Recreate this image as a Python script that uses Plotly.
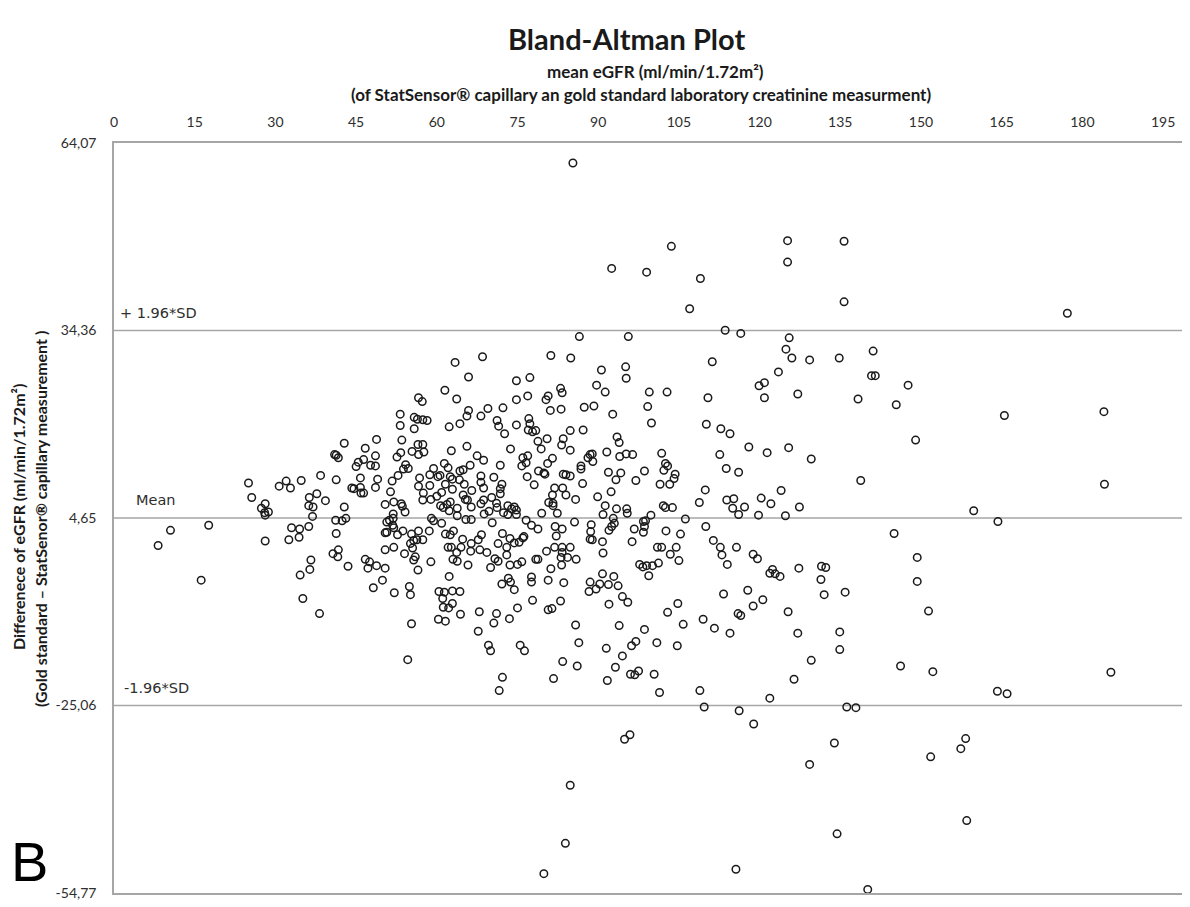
import plotly.graph_objects as go

# ---------------- data ----------------
# mean eGFR (x) and difference (y) pairs, grouped by area of the plot
far_left_mean = [10.5, 17.6, 8.2, 16.2]
far_left_diff = [2.7, 3.5, 0.3, -5.2]

upper_left_mean = [63.4, 65.9, 61.5, 63.7, 56.6, 57.3, 65.9, 65.6, 53.2, 55.8, 56.4, 57.4, 58.2, 53.2, 55.8,
                   62.3, 64.3, 42.8, 48.8, 53.5, 56.5, 57.4, 46.7, 65.6, 41.0, 41.3, 41.7, 45.4, 46.4, 48.6,
                   45.0, 47.7, 48.6, 52.6, 53.3, 55.4, 56.6, 57.6, 54.2, 53.8, 54.7, 62.7, 61.4, 59.4, 60.2,
                   60.6, 62.1, 64.3, 64.9, 66.2, 62.5, 62.9, 64.2, 25.0, 25.6, 30.7, 32.0, 32.8, 34.8, 38.4,
                   41.3, 45.8, 49.0, 51.7, 52.8, 44.2, 44.6, 45.8, 45.9, 46.4, 48.6, 51.4, 56.6, 56.8, 58.7,
                   58.7, 61.6, 65.1, 62.9, 57.5, 57.4, 58.9, 60.0, 60.9, 64.9, 65.7, 66.5, 36.3, 37.7, 39.3,
                   36.2, 37.0, 27.4, 28.1, 28.0, 28.7, 42.8, 50.4, 52.0, 53.4, 53.6, 54.1, 51.9, 60.7, 61.9,
                   62.5, 61.2, 62.3, 63.8, 65.3, 66.4]
upper_left_diff = [29.3, 27.0, 24.9, 23.5, 23.7, 23.1, 21.7, 20.8, 21.1, 20.6, 20.3, 20.2, 20.1, 19.3, 18.8,
                   19.1, 19.6, 16.5, 17.1, 17.0, 16.3, 16.3, 15.7, 16.0, 14.7, 14.6, 14.2, 13.5, 13.9, 14.5,
                   12.8, 13.0, 12.9, 14.3, 15.0, 15.2, 14.7, 15.1, 13.1, 12.4, 12.5, 15.3, 13.3, 12.5, 11.2,
                   11.4, 12.6, 12.1, 12.3, 13.0, 11.2, 10.8, 10.7, 10.2, 7.9, 9.7, 10.5, 9.4, 10.6, 11.4,
                   10.7, 11.0, 10.8, 10.5, 11.4, 9.4, 9.3, 9.5, 8.6, 8.6, 9.5, 8.8, 9.7, 11.0, 9.8,
                   11.5, 10.0, 10.0, 9.2, 8.6, 7.5, 7.6, 8.1, 8.7, 8.3, 7.5, 9.0, 7.9, 8.5, 7.4,
                   6.6, 6.4, 6.2, 6.9, 5.5, 5.6, 6.4, 6.8, 7.2, 6.9, 6.5, 5.6, 5.3, 6.6, 6.8,
                   7.2, 6.3, 5.8, 6.2, 7.6, 6.4]

lower_left_mean = [28.1, 36.9, 41.2, 42.4, 43.1, 50.7, 51.2, 51.9, 51.8, 59.0, 59.4, 60.9, 63.8, 65.4, 66.4,
                   33.0, 34.5, 36.2, 28.1, 32.5, 34.4, 41.3, 50.4, 50.7, 52.0, 52.7, 53.7, 55.3, 56.6, 58.6,
                   55.1, 55.7, 56.3, 57.4, 55.5, 61.6, 62.5, 63.1, 64.8, 66.4, 62.1, 62.7, 64.5, 66.3, 63.7,
                   63.0, 63.8, 65.8, 50.4, 52.0, 54.0, 56.0, 55.7, 56.5, 58.9, 62.3, 40.7, 41.7, 41.6, 43.5,
                   36.6, 36.4, 34.6, 46.7, 47.5, 47.2, 48.8, 50.4, 49.9, 48.2, 52.1, 54.9, 55.1, 35.1, 38.2,
                   60.4, 61.4, 62.9, 64.3, 61.1, 61.2, 62.2, 62.9, 64.4, 60.3, 61.6, 55.3, 54.6]
lower_left_diff = [5.1, 4.9, 4.3, 4.2, 4.6, 4.0, 4.3, 4.6, 3.5, 4.6, 4.2, 3.8, 5.0, 4.4, 4.4,
                   3.1, 2.9, 3.3, 1.0, 1.2, 1.6, 2.2, 2.3, 2.4, 3.1, 2.0, 2.6, 2.1, 2.6, 2.6,
                   0.6, 1.1, 1.2, 1.2, -0.1, 2.1, 2.0, 2.6, 1.3, 0.6, 0.0, 0.0, 0.0, -0.6, -0.8,
                   -1.9, -2.2, -2.8, -0.4, 0.0, -1.0, -1.5, -2.0, -3.6, -2.3, -4.6, -1.0, -0.4, -1.5, -3.0,
                   -2.0, -3.5, -4.4, -1.9, -2.3, -3.3, -2.9, -3.3, -5.2, -6.4, -7.2, -6.2, -7.5, -8.1, -10.5,
                   -7.0, -7.1, -6.9, -7.0, -8.1, -9.5, -9.6, -8.9, -10.6, -11.4, -11.7, -12.1, -17.8]

upper_mid_mean = [86.5, 95.6, 68.5, 81.2, 84.9, 111.2, 90.6, 95.1, 95.2, 74.8, 77.3, 89.7, 91.3, 99.5, 102.8,
                  110.4, 74.8, 76.9, 80.3, 80.7, 83.0, 83.3, 69.5, 68.2, 72.3, 81.1, 83.1, 87.4, 89.2, 92.7,
                  99.2, 99.9, 110.1, 112.8, 71.2, 71.5, 72.6, 74.8, 77.1, 77.3, 77.0, 77.8, 78.4, 78.8, 80.5,
                  79.4, 73.7, 84.8, 87.2, 83.5, 83.2, 84.8, 93.5, 93.9, 91.6, 94.0, 95.2, 96.4, 88.5, 88.9,
                  88.1, 89.0, 67.5, 68.7, 71.8, 76.0, 76.9, 76.6, 75.8, 81.5, 80.6, 78.9, 76.8, 80.1, 79.9,
                  83.5, 84.0, 84.8, 86.8, 86.8, 87.1, 78.1, 68.2, 68.2, 70.6, 68.7, 72.1, 71.8, 71.8, 70.2,
                  91.9, 94.2, 93.3, 97.0, 98.6, 101.8, 102.5, 102.9, 102.2, 104.3, 104.1, 103.3, 101.5, 92.4, 89.9,
                  81.9, 83.4, 81.5, 84.0, 85.8, 80.8, 81.6, 81.6, 82.4, 79.5, 73.2, 73.9, 74.4, 74.8, 74.8,
                  73.2, 72.4, 71.1, 71.2, 69.7, 68.7, 68.2, 68.8, 91.3, 93.4, 95.3, 95.4, 90.9, 99.8, 102.1,
                  102.5, 103.8, 108.8, 109.9, 112.6]
upper_mid_diff = [33.4, 33.4, 30.2, 30.4, 30.0, 29.4, 28.1, 28.6, 26.8, 26.4, 26.9, 25.7, 24.6, 24.6, 24.6,
                  23.7, 23.4, 24.0, 23.4, 24.0, 25.2, 24.5, 22.0, 20.8, 22.1, 21.7, 21.9, 22.2, 22.4, 21.1,
                  22.3, 19.7, 19.5, 18.8, 20.1, 19.2, 18.0, 19.4, 20.4, 19.6, 18.6, 18.3, 18.5, 16.8, 17.2,
                  15.6, 15.6, 18.5, 18.6, 17.2, 16.2, 15.4, 17.5, 16.6, 15.1, 14.4, 14.8, 14.7, 14.7, 14.8,
                  14.2, 13.6, 14.5, 13.8, 13.0, 14.2, 14.5, 13.4, 12.9, 14.1, 13.3, 12.1, 11.2, 11.6, 11.8,
                  11.6, 11.5, 11.3, 12.9, 12.4, 10.1, 9.9, 11.3, 10.3, 11.1, 9.4, 10.0, 9.3, 8.5, 7.9,
                  11.9, 11.8, 10.7, 10.6, 12.1, 14.9, 13.3, 12.9, 12.2, 11.6, 10.9, 10.0, 10.0, 8.8, 8.0,
                  9.4, 9.4, 8.3, 8.3, 7.6, 7.1, 7.0, 6.6, 5.4, 5.4, 6.6, 6.1, 6.4, 5.9, 5.2,
                  5.2, 5.5, 7.0, 6.3, 5.7, 7.5, 6.9, 5.3, 6.6, 6.1, 6.1, 5.4, 5.2, 5.1, 6.6,
                  6.3, 6.3, 7.1, 9.1, 14.7]

lower_mid_mean = [76.6, 85.6, 88.7, 92.8, 93.0, 92.5, 92.0, 98.4, 98.8, 98.6, 106.2, 110.0, 70.3, 68.3, 67.7,
                  68.0, 69.3, 70.0, 70.8, 71.4, 71.4, 72.2, 73.0, 73.0, 73.6, 74.4, 75.3, 76.0, 76.2, 73.6,
                  75.0, 75.8, 77.6, 78.8, 78.4, 78.8, 80.4, 81.2, 82.0, 82.2, 83.3, 81.9, 83.3, 83.3, 83.1,
                  83.2, 84.8, 84.3, 85.9, 88.6, 88.9, 88.5, 90.8, 90.9, 96.3, 96.7, 98.4, 97.7, 98.3, 99.0,
                  99.4, 100.1, 101.2, 101.0, 101.8, 102.6, 103.4, 104.5, 105.0, 105.3, 111.4, 112.7, 113.0, 77.6, 77.6,
                  80.7, 83.6, 72.1, 73.3, 73.7, 74.4, 77.8, 80.7, 81.4, 83.0, 75.0, 67.9, 71.1, 70.6, 73.5,
                  67.7, 69.6, 70.0, 75.5, 76.3, 72.2, 71.6, 81.7, 83.4, 86.1, 85.8, 86.4, 88.3, 88.5, 89.6,
                  90.3, 90.8, 91.9, 92.9, 93.7, 94.5, 95.5, 92.0, 93.9, 98.6, 97.0, 96.2, 100.9, 104.7, 91.5,
                  94.5, 93.2, 96.0, 96.8, 97.5, 100.4, 91.7, 101.4, 102.9, 104.8, 105.8, 109.5, 111.6, 108.9]
lower_mid_diff = [4.3, 4.0, 3.6, 4.6, 3.8, 3.3, 2.7, 4.1, 4.2, 3.3, 4.5, 3.3, 3.9, 2.0, 1.2,
                  -0.4, -0.8, -3.2, -1.8, -2.2, 0.6, 2.2, 0.0, -1.2, 1.4, 0.7, 0.8, 1.5, 1.7, -2.8,
                  -2.7, -2.3, 3.5, 2.9, -1.9, -1.9, -0.6, -3.4, 3.3, 1.8, 2.9, 0.0, 0.0, -0.8, -1.6,
                  -2.8, 0.0, -1.6, -1.9, 2.5, 1.2, 1.3, 0.9, -0.9, 0.9, 2.9, 2.4, -2.7, -3.1, -2.9,
                  -4.5, -2.9, -2.5, 0.0, 0.0, 2.6, -1.1, 0.0, -2.1, 2.1, 1.1, 0.0, -1.2, -4.7, -5.5,
                  -5.2, -5.6, -5.8, -4.9, -5.5, -6.7, -8.4, -9.9, -9.7, -8.5, -9.6, -10.2, -10.5, -12.0, -11.3,
                  -13.3, -15.5, -16.4, -15.5, -16.4, -20.6, -22.7, -20.8, -18.1, -18.8, -12.3, -15.1, -7.0, -5.5, -6.6,
                  -5.8, -4.2, -5.9, -4.6, -6.1, -7.8, -8.7, -9.0, -12.4, -13.0, -14.9, -15.6, -15.1, -15.6, -16.0,
                  -17.2, -19.0, -20.1, -20.2, -19.6, -20.1, -21.1, -23.0, -10.3, -8.9, -12.2, -11.4, -12.8, -22.7]

right_mean = [113.6, 116.5, 125.5, 124.9, 126.0, 129.3, 134.8, 141.1, 123.5, 120.9, 119.9, 120.9, 127.1, 140.8, 141.5,
              147.6, 138.3, 145.4, 165.5, 184.0, 149.0, 114.5, 118.0, 121.4, 125.4, 129.6, 113.8, 116.1, 138.8, 184.1,
              124.0, 113.9, 115.2, 120.3, 122.1, 127.4, 115.0, 117.2, 116.1, 119.8, 124.8, 159.8, 164.3, 145.0, 149.3,
              149.3, 151.4, 146.2, 152.2, 185.3, 164.2, 166.0, 115.7, 118.8, 119.6, 114.0, 122.4, 121.9, 122.9, 123.8,
              127.3, 131.5, 132.3, 131.4, 132.0, 135.9, 113.3, 117.8, 120.6, 118.8, 116.0, 116.5, 125.3, 114.5, 127.1,
              134.9, 134.9, 129.6, 126.4, 121.9]
right_diff = [34.4, 33.9, 33.2, 31.4, 30.0, 29.7, 30.0, 31.1, 27.8, 26.1, 25.6, 23.7, 24.3, 27.2, 27.2,
              25.7, 23.5, 22.6, 20.9, 21.5, 17.0, 18.0, 15.9, 15.0, 15.8, 14.0, 12.5, 11.9, 10.6, 10.0,
              9.0, 7.5, 7.7, 7.8, 6.9, 6.4, 6.2, 6.4, 5.2, 5.1, 5.0, 5.8, 4.1, 2.2, -1.6,
              -5.4, -10.1, -18.8, -19.7, -19.8, -22.8, -23.2, 0.0, -1.1, -1.8, -2.7, -3.5, -4.1, -4.2, -4.6,
              -3.3, -3.0, -3.2, -5.1, -7.5, -7.1, -7.4, -6.8, -8.3, -9.3, -10.5, -10.8, -10.2, -13.6, -13.6,
              -13.4, -16.2, -17.9, -20.9, -23.9]

high_mean = [85.3, 103.6, 92.5, 99.0, 109.0, 107.0, 125.2, 125.2, 135.7, 135.7, 177.2]
high_diff = [60.9, 47.7, 44.2, 43.6, 42.6, 37.8, 48.6, 45.2, 48.5, 38.9, 37.1]

low_mean = [109.7, 116.2, 118.9, 136.2, 137.9, 94.9, 95.9, 133.9, 129.3, 151.8, 157.4, 158.3, 84.8, 158.5, 134.4,
            83.9, 79.9, 115.6, 140.1]
low_diff = [-25.3, -25.9, -28.0, -25.3, -25.4, -30.4, -29.7, -31.0, -34.4, -33.2, -31.9, -30.3, -37.7, -43.3, -45.4,
            -46.9, -51.7, -51.0, -54.2]

x_ticks = list(range(0, 196, 15))
y_ticks = [64.07, 34.36, 4.65, -25.06, -54.77]
y_tick_text = ["64,07", "34,36", "4,65", "-25,06", "-54,77"]
mean_diff = 4.65
upper_loa = 34.36
lower_loa = -25.06

# -------------------------------------------------------------------------
mean_all = (far_left_mean + upper_left_mean + lower_left_mean + upper_mid_mean +
            lower_mid_mean + right_mean + high_mean + low_mean)
diff_all = (far_left_diff + upper_left_diff + lower_left_diff + upper_mid_diff +
            lower_mid_diff + right_diff + high_diff + low_diff)

fig = go.Figure()
fig.add_trace(go.Scatter(
    x=mean_all, y=diff_all, mode="markers",
    marker=dict(symbol="circle-open", size=7.5, color="#1a1a1a",
                line=dict(width=1.5, color="#1a1a1a")),
    hoverinfo="x+y"))

for v in [upper_loa, mean_diff, lower_loa]:
    fig.add_shape(type="line", xref="paper", x0=0, x1=1, yref="y", y0=v, y1=v,
                  line=dict(color="#a6a6a6", width=1.5), layer="below")

# the page body adds an 8px offset, so the figure is 8px smaller and shifted
PLOT_L, PLOT_T, PLOT_W, PLOT_H = 114, 143, 1076, 750   # target plot box on screen

tick_font = dict(family="Lato", size=14, color="#2e2e2e")
fig.update_layout(
    width=1182, height=899,
    margin=dict(l=106, r=0, t=135, b=14, autoexpand=False),
    plot_bgcolor="white", paper_bgcolor="white",
    showlegend=False,
    xaxis=dict(range=[0, 200], side="top", tickvals=x_ticks, showgrid=False,
               zeroline=False, showline=True, mirror=True, linecolor="#a6a6a6",
               linewidth=1.5, ticks="outside", ticklen=9, automargin=False,
               tickcolor="rgba(0,0,0,0)", tickfont=tick_font),
    yaxis=dict(range=[-54.77, 64.07], tickvals=y_ticks, ticktext=y_tick_text,
               showgrid=False, zeroline=False, showline=True, linecolor="#a6a6a6",
               linewidth=1.5, ticks="outside", ticklen=13, automargin=False,
               tickcolor="rgba(0,0,0,0)", tickfont=tick_font),
)


def px(x):
    return (x - PLOT_L) / PLOT_W


def py(y):
    return (PLOT_T + PLOT_H - y) / PLOT_H


bold = dict(family="Lato", size=17, color="#1a1a1a")
ybold = dict(family="Lato", size=16, color="#1a1a1a")
ann = [
    dict(text="<b>Bland-Altman Plot</b>", x=px(626), y=py(38),
         font=dict(family="Lato", size=29, color="#1a1a1a")),
    dict(text="<b>mean eGFR (ml/min/1.72m²)</b>", x=px(655), y=py(72), font=bold),
    dict(text="<b>(of StatSensor® capillary an gold standard laboratory creatinine measurment)</b>",
         x=px(641), y=py(95), font=bold),
    dict(text="<b>Differenece of eGFR (ml/min/1.72m²)</b>", x=px(18), y=py(517),
         textangle=-90, font=ybold),
    dict(text="<b>(Gold standard – StatSenor® capillary measurement )</b>", x=px(40),
         y=py(519), textangle=-90, font=ybold),
    dict(text="B", x=px(29), y=py(861),
         font=dict(family="Liberation Sans", size=56, color="#000000")),
]
for a in ann:
    fig.add_annotation(xref="paper", yref="paper", showarrow=False,
                       xanchor="center", yanchor="middle", **a)

line_font = dict(family="DejaVu Sans", size=14.5, color="#2e2e2e")
for txt, xs, yv in [("+ 1.96*SD", 118, upper_loa), ("Mean", 134, mean_diff),
                    ("-1.96*SD", 122, lower_loa)]:
    fig.add_annotation(text=txt, xref="paper", x=px(xs), yref="y", y=yv, yshift=18,
                       xanchor="left", yanchor="middle", showarrow=False, font=line_font)

fig.write_html("out.html")
